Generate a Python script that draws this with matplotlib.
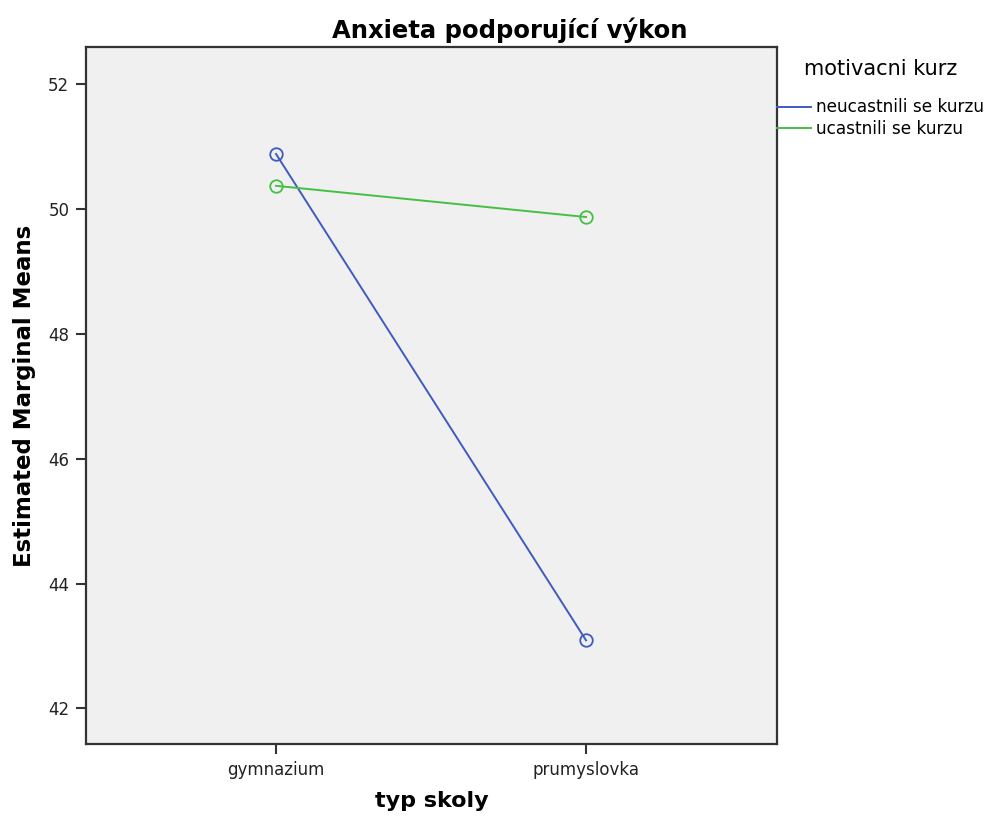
import matplotlib
matplotlib.use("Agg")
import matplotlib.pyplot as plt
from matplotlib.lines import Line2D

categories = ["gymnazium", "prumyslovka"]
series_names = ["neucastnili se kurzu", "ucastnili se kurzu"]
neucastnili = [50.88, 43.09]
ucastnili = [50.37, 49.87]
yticks = [42, 44, 46, 48, 50, 52]

colors = ["#3f5bbf", "#45c045"]

fig = plt.figure(figsize=(9.93, 8.18), dpi=100)
ax = fig.add_axes([0.0866, 0.0905, 0.6959, 0.852])
ax.set_facecolor("#f0f0f0")
x = list(range(len(categories)))
for vals, c, name in zip([neucastnili, ucastnili], colors, series_names):
    ax.plot(x, vals, color=c, lw=1.4, marker="o", markersize=9, markerfacecolor="none",
            markeredgecolor=c, markeredgewidth=1.3, label=name)

ax.set_xlim(-0.613, 1.616)
ax.set_ylim(41.43, 52.593)
ax.set_xticks(x)
ax.set_xticklabels(categories, fontsize=12, color="#222222")
ax.set_yticks(yticks)
ax.set_yticklabels([str(v) for v in yticks], fontsize=12, color="#222222")
ax.tick_params(direction="out", length=7, width=1.5, color="#333333", pad=5)
for s in ax.spines.values():
    s.set_color("#333333")
    s.set_linewidth(1.6)

fig.text(0.5133, 0.963, "Anxieta podporující výkon", ha="center", va="center",
         fontsize=17.5, fontweight="bold")
ax.set_ylabel("Estimated Marginal Means", fontsize=16.5, fontweight="bold", labelpad=9)
ax.set_xlabel("typ skoly", fontsize=16, fontweight="bold", labelpad=9)

handles = [Line2D([0], [0], color=c, lw=1.4) for c in colors]
leg = fig.legend(handles, series_names, title="motivacni kurz", loc="upper left",
                 bbox_to_anchor=(0.779, 0.932), frameon=False, fontsize=12.2,
                 title_fontsize=15, handlelength=2.0, handletextpad=0.3,
                 labelspacing=0.2, borderaxespad=0, borderpad=0.2)
leg._legend_box.align = "center"
leg._legend_box.sep = 14

fig.savefig("out.png", dpi=100)
